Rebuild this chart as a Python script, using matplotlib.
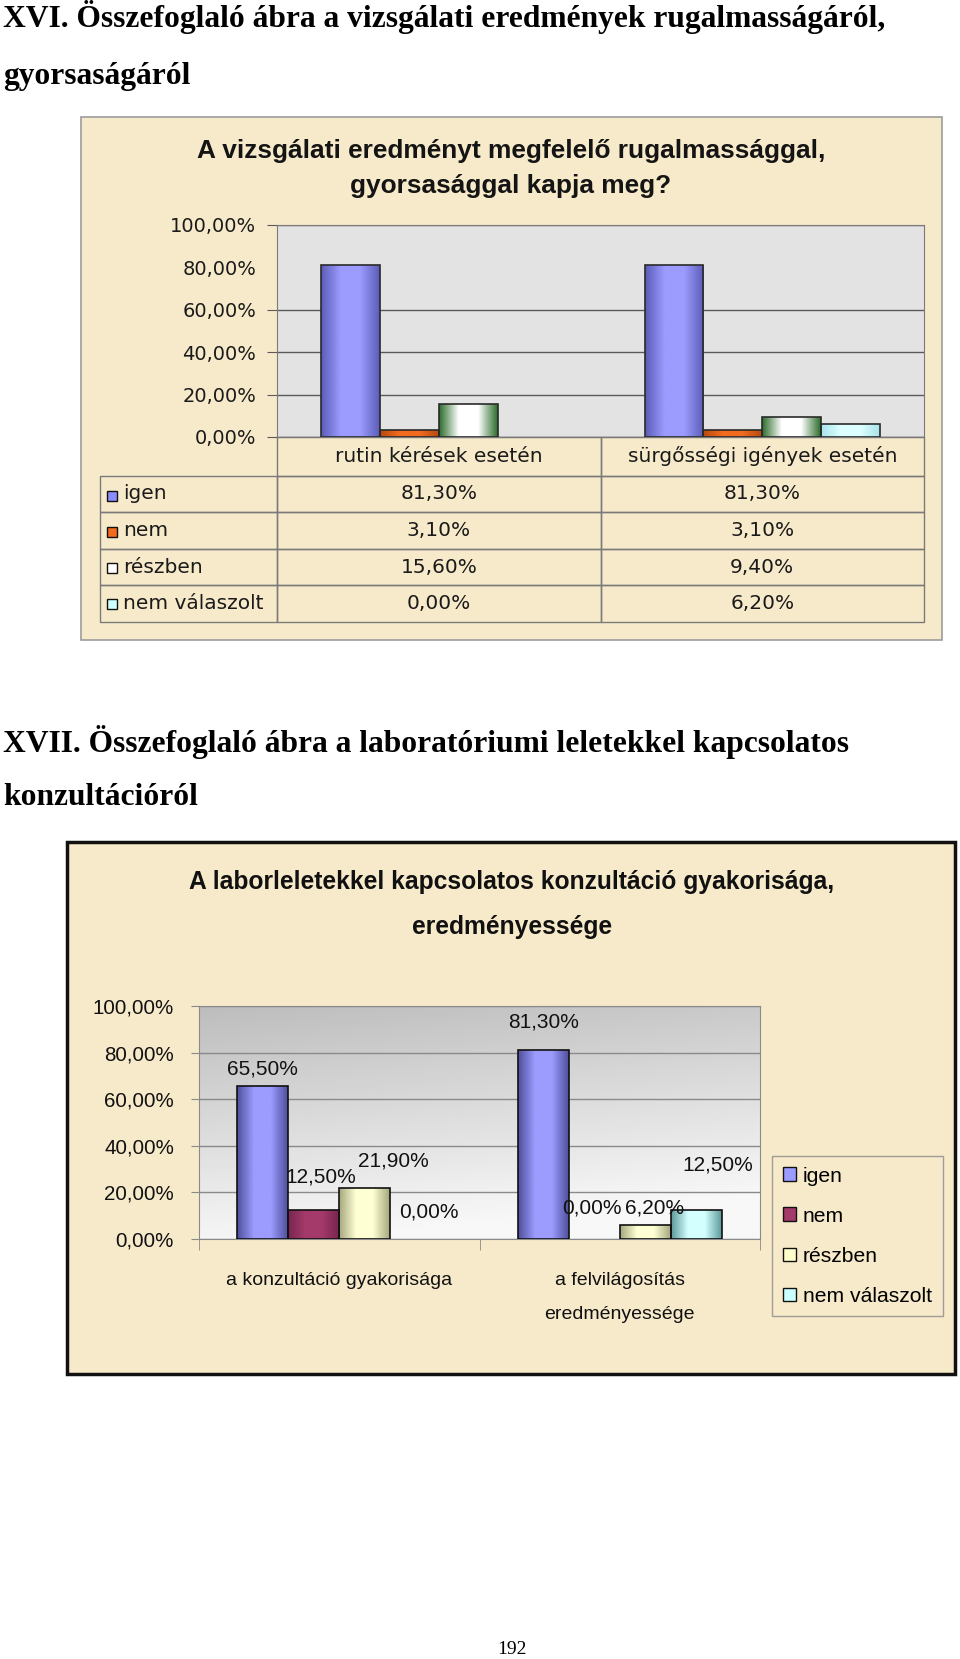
import numpy as np
import matplotlib
matplotlib.use('Agg')
import matplotlib.pyplot as plt
from matplotlib.patches import Rectangle, Patch
from matplotlib.colors import LinearSegmentedColormap

W, H = 960, 1659

series = ['igen', 'nem', 'részben', 'nem válaszolt']
yticks = [0, 20, 40, 60, 80, 100]

# XVI. chart - rugalmasság, gyorsaság
cats1 = ['rutin kérések esetén', 'sürgősségi igények esetén']
igen1 = [81.3, 81.3]
nem1 = [3.1, 3.1]
reszben1 = [15.6, 9.4]
nemval1 = [0.0, 6.2]

# XVII. chart - konzultáció
cats2 = ['a konzultáció gyakorisága', 'a felvilágosítás\neredményessége']
igen2 = [65.5, 81.3]
nem2 = [12.5, 0.0]
reszben2 = [21.9, 6.2]
nemval2 = [0.0, 12.5]

# label offsets (pixels) for the XVII data labels, per series / category
lab_dx = [[0, 0], [7, -2], [29, 9], [13, 22]]
lab_dy = [[17, 28], [33, 31], [27, 17], [27, 45]]

PARCH = '#F7EACA'
GRAD = np.linspace(0, 1, 64).reshape(1, -1)


def box(x0, y0, x1, y1):
    return [x0 / W, 1 - y1 / H, (x1 - x0) / W, (y1 - y0) / H]


def fy(py):
    return 1 - py / H


def pct(v):
    return ('%.2f%%' % v).replace('.', ',')


def draw_bars(ax, data, styles, outline, width=1 / 5.5):
    n = len(data)
    x = np.arange(len(data[0]))
    for i, (vals, (edge, mid)) in enumerate(zip(data, styles)):
        pos = x + (i - (n - 1) / 2) * width
        fill = ax.bar(pos, vals, width, color=mid, linewidth=0, zorder=2)
        cmap = LinearSegmentedColormap.from_list('b%d' % i, [edge, mid, mid, edge])
        for b in fill:
            if b.get_height() <= 0:
                continue
            im = ax.imshow(GRAD, cmap=cmap, aspect='auto', interpolation='bilinear',
                           extent=(b.get_x(), b.get_x() + b.get_width(), 0, b.get_height()),
                           zorder=2.5)
            im.set_clip_path(b)
        rims = ax.bar(pos, vals, width, fill=False, edgecolor=outline, linewidth=1.2, zorder=3)
        for b, v in zip(rims, vals):
            b.set_visible(v > 0)


fig = plt.figure(figsize=(W / 100, H / 100), dpi=100)

# page headings
serif = dict(family='Liberation Serif', fontweight='bold', fontsize=22.7, va='baseline')
fig.text(3 / W, fy(27), 'XVI. Összefoglaló ábra a vizsgálati eredmények rugalmasságáról,', **serif)
fig.text(3 / W, fy(84), 'gyorsaságáról', **serif)
fig.text(3 / W, fy(752), 'XVII. Összefoglaló ábra a laboratóriumi leletekkel kapcsolatos', **serif)
fig.text(3 / W, fy(805), 'konzultációról', **serif)
fig.text(512 / W, fy(1649), '192', family='Liberation Serif', fontsize=14, ha='center', va='center')

# ---------------- XVI chart ----------------
fig.add_artist(Rectangle((81 / W, fy(640)), (942 - 81) / W, (640 - 117) / H, transform=fig.transFigure,
                         facecolor=PARCH, edgecolor='#9C9C9C', linewidth=1.2, zorder=-1))
t1 = dict(family='Liberation Sans', fontweight='bold', fontsize=18.9, ha='center', va='center', color='#141414')
fig.text(511 / W, fy(151), 'A vizsgálati eredményt megfelelő rugalmassággal,', **t1)
fig.text(511 / W, fy(186), 'gyorsasággal kapja meg?', **t1)

ax1 = fig.add_axes(box(277, 225, 924, 437))
ax1.set_facecolor('#E3E3E3')
ax1.set_axisbelow(True)
ax1.yaxis.grid(True, color='#5A5A5A', linewidth=1)
styles1 = [('#5C5CB8', '#9C9CFF'), ('#B84A10', '#F26B1F'), ('#2E6E2E', '#FFFFFF'), ('#A8E4EA', '#DDFFFF')]
draw_bars(ax1, [igen1, nem1, reszben1, nemval1], styles1, '#2A2A2A')
ax1.set_xlim(-0.5, 1.5)
ax1.set_ylim(0, 100)
ax1.set_xticks([])
ax1.set_yticks(yticks)
ax1.set_yticklabels([pct(v) for v in yticks], family='DejaVu Sans', fontsize=14, color='#1A1A1A')
ax1.tick_params(axis='y', length=7, color='#5A5A5A', pad=8)
ax1.get_ygridlines()[4].set_visible(False)
ax1.yaxis.get_major_ticks()[4].tick1line.set_visible(False)
for s in ax1.spines.values():
    s.set_color('#7A7A7A')

# data table under the chart
rows = [['', cats1[0], cats1[1]]]
for name, a in zip(series, [igen1, nem1, reszben1, nemval1]):
    rows.append([name, pct(a[0]), pct(a[1])])
tb_h = (622 - 437) / 212
tbl = ax1.table(cellText=rows, cellLoc='center', bbox=[(100 - 277) / 647, -tb_h, 824 / 647, tb_h])
tbl.auto_set_font_size(False)
tbl.set_fontsize(14.5)
for (r, c), cell in tbl.get_celld().items():
    cell.set_width([177, 323.5, 323.5][c])
    cell.set_height(38 if r == 0 else 36)
    cell.set_facecolor('none')
    cell.set_edgecolor('#7A7A7A')
    txt = cell.get_text()
    txt.set_fontfamily('DejaVu Sans')
    txt.set_color('#1A1A1A')
    if c == 0:
        cell._loc = 'left'
        txt.set_horizontalalignment('left')
        cell.PAD = 0.13
    if r == 0 and c == 0:
        cell.visible_edges = 'open'
key_colors1 = ['#8C8CFF', '#F26B1F', '#FFFFFF', '#CCFFFF']
for i, kc in enumerate(key_colors1):
    fig.add_artist(Rectangle((107 / W, fy(501 + 36 * i)), 10 / W, 10 / H, transform=fig.transFigure,
                             facecolor=kc, edgecolor='#111111', linewidth=1))

# ---------------- XVII chart ----------------
fig.add_artist(Rectangle((67 / W, fy(1374)), (955 - 67) / W, (1374 - 842) / H, transform=fig.transFigure,
                         facecolor=PARCH, edgecolor='#111111', linewidth=2.5, zorder=-1))
t2 = dict(family='Liberation Sans', fontweight='bold', fontsize=17.7, ha='center', va='center', color='#111111')
fig.text(512 / W, fy(882), 'A laborleletekkel kapcsolatos konzultáció gyakorisága,', **t2)
fig.text(512 / W, fy(927), 'eredményessége', **t2)

ax2 = fig.add_axes(box(199, 1006, 760, 1239))
yy = np.linspace(0, 1, 120)[:, None]
xx = np.linspace(0, 1, 160)[None, :]
bg = np.clip(0.74 + 0.22 * yy + 0.05 * xx, 0, 0.97)
ax2.imshow(bg, cmap='gray', vmin=0, vmax=1, aspect='auto', extent=(-0.5, 1.5, 0, 100), zorder=0)
ax2.set_axisbelow(True)
ax2.yaxis.grid(True, color='#8A8A8A', linewidth=1)
styles2 = [('#50509E', '#9C9CFF'), ('#7A2550', '#A33A6A'), ('#A8A87E', '#FFFFD4'), ('#5E9A9A', '#D4FFFF')]
data2 = [igen2, nem2, reszben2, nemval2]
draw_bars(ax2, data2, styles2, '#111111')
ax2.set_xlim(-0.5, 1.5)
ax2.set_ylim(0, 100)
ax2.set_yticks(yticks)
ax2.set_yticklabels([pct(v) for v in yticks], family='Liberation Sans', fontsize=14.8, color='#111111')
ax2.tick_params(axis='y', length=6, color='#8A8A8A', pad=12)
ax2.set_xticks([0, 1])
ax2.set_xticklabels(cats2, family='Liberation Sans', fontsize=14, color='#111111')
for lbl in ax2.get_xticklabels():
    lbl.set_linespacing(2.25)
ax2.tick_params(axis='x', length=0, pad=24)
ax2.set_xticks([-0.5, 0.5, 1.5], minor=True)
ax2.tick_params(axis='x', which='minor', length=8, color='#8A8A8A')
for s in ax2.spines.values():
    s.set_color('#8A8A8A')

bw = 1 / 5.5
for i, vals in enumerate(data2):
    for j, v in enumerate(vals):
        ax2.annotate(pct(v), xy=(j + (i - 1.5) * bw, v), xytext=(lab_dx[i][j] * 0.72, lab_dy[i][j] * 0.72),
                     textcoords='offset points', ha='center', va='center',
                     family='Liberation Sans', fontsize=15, color='#111111', zorder=5)

key_colors2 = ['#9C9CFF', '#A33A6A', '#FFFFCC', '#CCFFFF']
handles = [Patch(facecolor=kc, edgecolor='#111111', linewidth=1) for kc in key_colors2]
leg = ax2.legend(handles, series, loc='upper left', bbox_to_anchor=(772 / W, fy(1156)),
                 bbox_transform=fig.transFigure, borderaxespad=0, frameon=True, fancybox=False,
                 facecolor='none', edgecolor='#8A8A8A', borderpad=0.5, labelspacing=1.0,
                 handlelength=0.62, handleheight=0.62, handletextpad=0.35,
                 prop={'family': 'Liberation Sans', 'size': 15.2})
leg.get_frame().set_linewidth(1)

fig.savefig('out.png', dpi=100)
